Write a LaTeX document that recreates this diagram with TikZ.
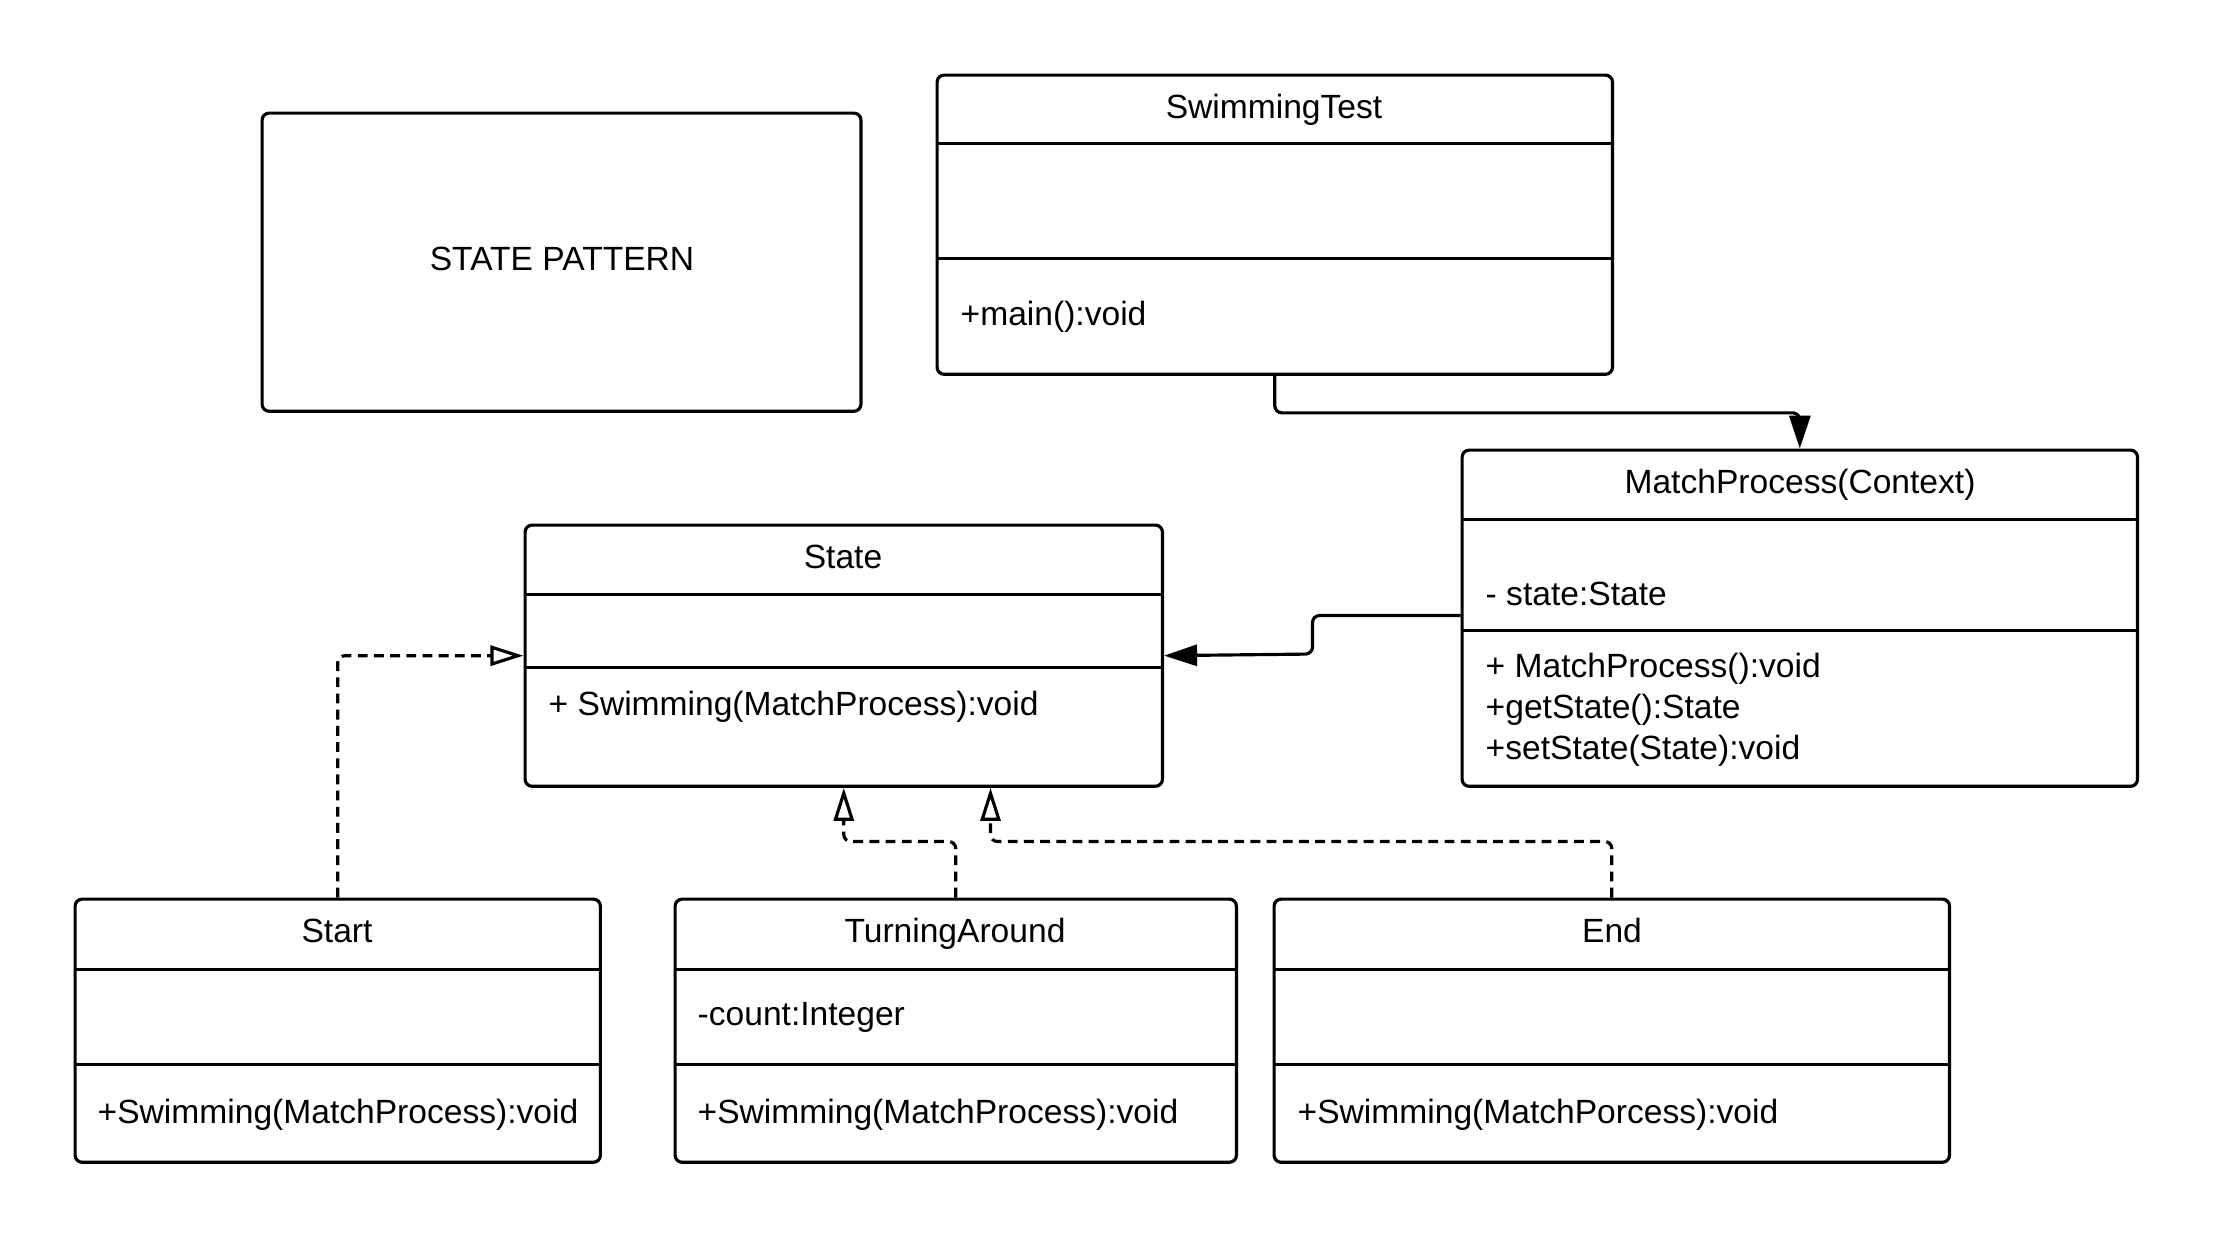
\documentclass[tikz,border=0pt]{standalone}
\usepackage{fontspec}
\setmainfont{Liberation Sans}
\usetikzlibrary{arrows.meta}
\begin{document}
\begin{tikzpicture}[x=0.01cm,y=-0.01cm,
  umlbox/.style={draw, line width=0.9pt, rounded corners=2pt, anchor=north west, inner sep=0pt},
  divider/.style={line width=0.9pt},
  lbl/.style={font=\fontsize{9.55}{11.5}\selectfont, inner sep=0pt, anchor=base west,
    xshift=0.015cm, yshift=-0.015cm},
  ttl/.style={font=\fontsize{9.55}{11.5}\selectfont, inner sep=0pt, anchor=base,
    xshift=0.015cm, yshift=-0.015cm},
  assoc/.style={line width=0.9pt, rounded corners=2pt, -{Triangle[length=0.33cm,width=0.21cm]}},
  realize/.style={line width=0.9pt, rounded corners=2pt, dash pattern=on 2.8pt off 1.8pt,
    -{Triangle[open,length=0.33cm,width=0.2cm]}},
]
\useasboundingbox (1.5,1.5) rectangle (2214.5,1239.5);

% title box
\node[umlbox, minimum width=5.985cm, minimum height=2.98cm] (pattern) at (262,113) {};
\node[ttl] (patternT) at (562,270) {STATE PATTERN};

% SwimmingTest
\node[umlbox, minimum width=6.75cm, minimum height=2.99cm] (swim) at (937,75) {};
\draw[divider] (swim.west |- 0,145) -- (swim.east |- 0,145);
\draw[divider] (swim.west |- 0,260) -- (swim.east |- 0,260);
\node[ttl] (swimT) at (1274,118) {SwimmingTest};
\node[lbl] (swimM) at (960,325) {+main():void};

% MatchProcess (Context)
\node[umlbox, minimum width=6.75cm, minimum height=3.36cm] (mp) at (1462,450) {};
\draw[divider] (mp.west |- 0,521) -- (mp.east |- 0,521);
\draw[divider] (mp.west |- 0,632) -- (mp.east |- 0,632);
\node[ttl] (mpT) at (1800,493) {MatchProcess(Context)};
\node[lbl] (mpA) at (1485,605) {- state:State};
\node[lbl] (mpM1) at (1485,677) {+ MatchProcess():void};
\node[lbl] (mpM2) at (1485,718) {+getState():State};
\node[lbl] (mpM3) at (1485,759) {+setState(State):void};

% State
\node[umlbox, minimum width=6.37cm, minimum height=2.61cm] (state) at (525,525) {};
\draw[divider] (state.west |- 0,596) -- (state.east |- 0,596);
\draw[divider] (state.west |- 0,669) -- (state.east |- 0,669);
\node[ttl] (stateT) at (843,568) {State};
\node[lbl] (stateM) at (548,715) {+ Swimming(MatchProcess):void};

% Start
\node[umlbox, minimum width=5.25cm, minimum height=2.63cm] (start) at (75,899) {};
\draw[divider] (start.west |- 0,971) -- (start.east |- 0,971);
\draw[divider] (start.west |- 0,1066) -- (start.east |- 0,1066);
\node[ttl] (startT) at (337,942) {Start};
\node[lbl] (startM) at (97,1123) {+Swimming(MatchProcess):void};

% TurningAround
\node[umlbox, minimum width=5.61cm, minimum height=2.63cm] (turn) at (675,899) {};
\draw[divider] (turn.west |- 0,971) -- (turn.east |- 0,971);
\draw[divider] (turn.west |- 0,1066) -- (turn.east |- 0,1066);
\node[ttl] (turnT) at (955,942) {TurningAround};
\node[lbl] (turnA) at (697,1025) {-count:Integer};
\node[lbl] (turnM) at (697,1123) {+Swimming(MatchProcess):void};

% End
\node[umlbox, minimum width=6.75cm, minimum height=2.63cm] (end) at (1274,899) {};
\draw[divider] (end.west |- 0,971) -- (end.east |- 0,971);
\draw[divider] (end.west |- 0,1066) -- (end.east |- 0,1066);
\node[ttl] (endT) at (1612,942) {End};
\node[lbl] (endM) at (1297,1123) {+Swimming(MatchPorcess):void};

% associations
\draw[assoc] (swim.south) -- ++(0,37) -| (mp.north);
\draw[assoc] (mp.west |- 0,617) -- (1314,617) -- (1314,655.5) -- (state.east);

% realizations
\draw[realize] (start.north) |- (state.west);
\draw[realize] (turn.north) -- ++(0,-56) -| (state.south);
\draw[realize] (end.north) -- ++(0,-56) -| (state.south -| 992,0);
\end{tikzpicture}
\end{document}
